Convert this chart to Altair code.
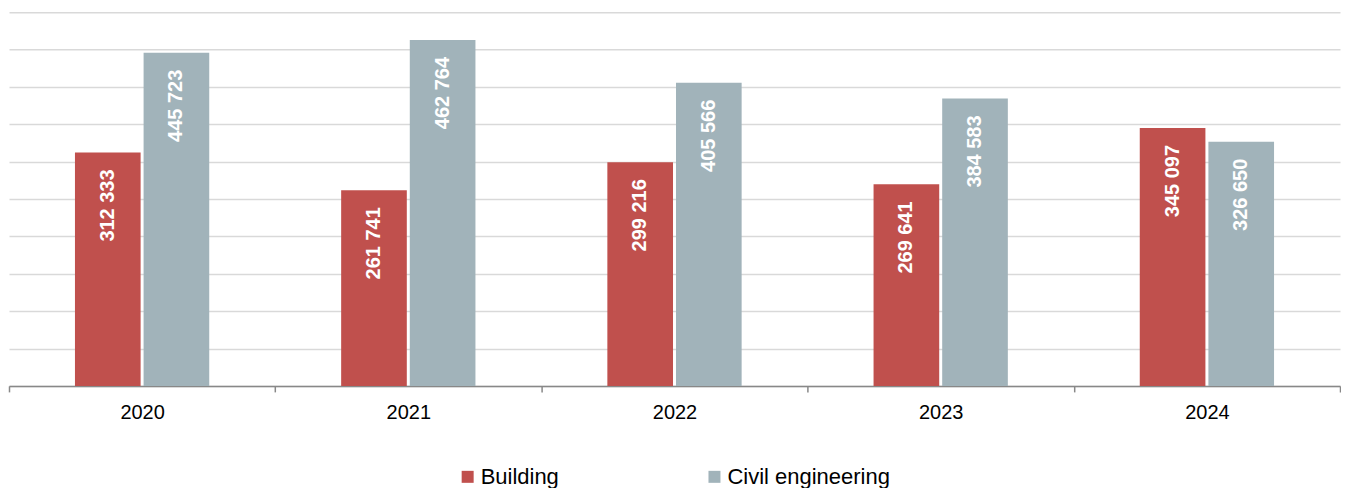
import altair as alt
import pandas as pd

years = ["2020", "2021", "2022", "2023", "2024"]
series = ["Building", "Civil engineering"]
building = [312333, 261741, 299216, 269641, 345097]
civil = [445723, 462764, 405566, 384583, 326650]
colors = ["#C0504D", "#A1B3BA"]
grid_values = list(range(0, 500001, 50000))

rows = []
for i, y in enumerate(years):
    for s, vals in zip(series, [building, civil]):
        v = vals[i]
        rows.append({"year": y, "series": s, "value": v,
                     "label": f"{v:,}".replace(",", " ")})
df = pd.DataFrame(rows)

FONT = "Liberation Sans"

x = alt.X("year:N", title=None, sort=years,
          scale=alt.Scale(paddingInner=0, paddingOuter=0),
          axis=alt.Axis(labelAngle=0, labelFontSize=20, labelColor="#000000",
                        labelFont=FONT, tickBand="extent", tickSize=6,
                        tickColor="#888888", tickWidth=1.5,
                        domainColor="#888888", domainWidth=1.5,
                        labelPadding=11, grid=False))
xo = alt.XOffset("series:N", sort=series,
                 scale=alt.Scale(paddingInner=0.0435, paddingOuter=0.961))
y = alt.Y("value:Q", title=None,
          scale=alt.Scale(domain=[0, 500000], nice=False),
          axis=alt.Axis(values=grid_values, labels=False, ticks=False,
                        domain=False, grid=True, gridColor="#d9d9d9",
                        gridWidth=1.5))

base = alt.Chart(df)

bars = base.mark_bar().encode(
    color=alt.Color("series:N", sort=series,
                    scale=alt.Scale(domain=series, range=colors),
                    legend=alt.Legend(title=None, orient="none",
                                      direction="horizontal",
                                      legendX=448, legendY=454,
                                      symbolType="square", symbolSize=144,
                                      symbolStrokeWidth=0,
                                      labelFontSize=22, labelFont=FONT,
                                      labelColor="#000000", labelOffset=2,
                                      labelLimit=400,
                                      columnPadding=144, padding=0)),
)

labels = base.mark_text(
    angle=270, align="right", baseline="middle", dx=-17,
    font=FONT, fontSize=20, fontWeight="bold", color="white",
).encode(text="label:N")

chart = alt.layer(bars, labels).encode(
    x=x, xOffset=xo, y=y,
).properties(
    width=1332, height=374,
    padding={"left": 0, "top": 4, "right": 0, "bottom": 0},
).configure_view(stroke=None)

chart.save("out.html", embed_options={"renderer": "svg", "actions": False})
